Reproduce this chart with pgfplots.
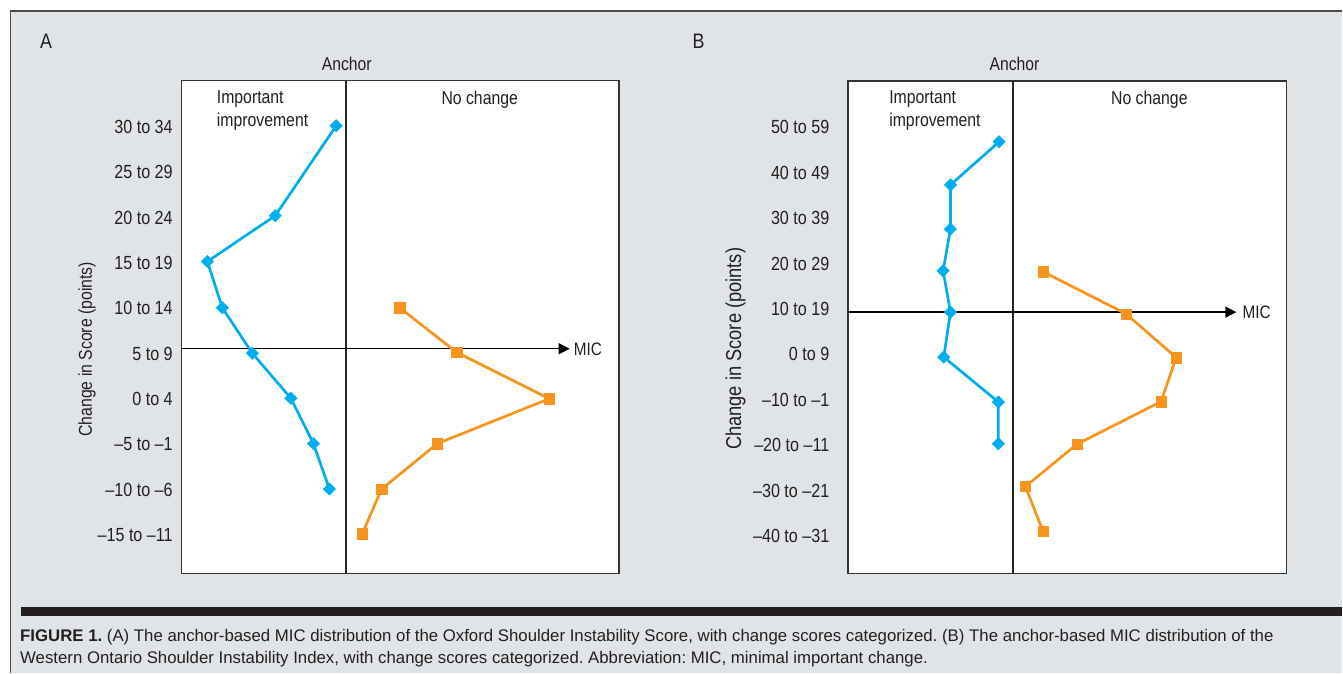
\documentclass[border=0pt]{standalone}
\usepackage{fontspec}
\setmainfont{Liberation Sans}[FakeStretch=0.85]
\newfontfamily\capfont{Liberation Sans}
\usepackage{pgfplots}
\pgfplotsset{compat=1.18}
\usetikzlibrary{arrows.meta}
\definecolor{bg}{RGB}{225,228,231}
\definecolor{cblue}{RGB}{0,174,239}
\definecolor{corange}{RGB}{247,148,29}
\definecolor{txt}{RGB}{35,31,32}
\frenchspacing
\pgfplotsset{
  panel/.style={
    scale only axis, anchor=south west, clip=false,
    axis background/.style={fill=white},
    axis line style={draw=black!80, line width=1.3pt},
    xtick=\empty, ytick={0,...,9}, major tick length=0pt,
    ytick style={draw=none},
    yticklabel style={font=\fontsize{19}{22}\selectfont, text=txt, anchor=east, inner sep=0pt},
  },
  bluel/.style={color=cblue, line width=2.7pt, mark=square*, mark size=4.4pt,
    mark options={rotate=45, fill=cblue, draw=cblue, line width=0.4pt, solid}},
  orangel/.style={color=corange, line width=2.7pt, mark=square*, mark size=5.2pt,
    mark options={fill=corange, draw=corange, line width=0.4pt, solid}},
}
\begin{document}
\begin{tikzpicture}[x=1pt,y=1pt]
\fill[white] (0,0) rectangle (1343,673);
\fill[bg] (10.7,0) rectangle (1343,662);
\draw[line width=1.5pt, color=black!70] (10.7,0) -- (10.7,662) -- (1343,662);
\fill[txt] (21,57) rectangle (1343,66);
\node[anchor=base west, inner sep=0pt, font=\capfont\fontsize{16.8}{20}\selectfont, text=txt] at (20,31) {\textbf{FIGURE 1.} (A) The anchor-based MIC distribution of the Oxford Shoulder Instability Score, with change scores categorized. (B) The anchor-based MIC distribution of the};
\node[anchor=base west, inner sep=0pt, font=\capfont\fontsize{16.8}{20}\selectfont, text=txt] at (20,9) {Western Ontario Shoulder Instability Index, with change scores categorized. Abbreviation: MIC, minimal important change.};

% Panel A
\begin{axis}[panel, at={(181.4pt,99pt)}, width=437.9pt, height=493.3pt,
  xmin=-165, xmax=272.9, ymin=-0.843, ymax=10.013,
  yticklabel style={xshift=-8.4pt},
  yticklabels={–15 to –11,–10 to –6,–5 to –1,0 to 4,5 to 9,10 to 14,15 to 19,20 to 24,25 to 29,30 to 34}]
\draw[line width=1.8pt, black!85] (axis cs:0,-0.843) -- (axis cs:0,10.013);
\draw[line width=1.4pt, -{Triangle[length=11pt,width=11pt]}] (axis cs:-165,4.11) -- (axis cs:223.6,4.11);
\addplot[bluel] coordinates {(-10,9.02) (-71,7.04) (-138.9,6.03) (-123.9,5.01) (-93.9,4.01) (-55.4,3.02) (-32.8,2.02) (-16.8,1.02)};
\addplot[orangel] coordinates {(53.6,5.01) (110.6,4.03) (203.2,3.01) (91.1,2.02) (35.4,1.02) (16.1,0.04)};
\end{axis}

% Panel B
\begin{axis}[panel, at={(848.6pt,99pt)}, width=438.4pt, height=493pt,
  xmin=-165, xmax=273.4, ymin=-0.83, ymax=10.02,
  yticklabel style={xshift=-18.6pt},
  yticklabels={–40 to –31,–30 to –21,–20 to –11,–10 to –1,0 to 9,10 to 19,20 to 29,30 to 39,40 to 49,50 to 59}]
\draw[line width=1.8pt, black!85] (axis cs:0,-0.83) -- (axis cs:0,10.02);
\draw[line width=1.4pt, -{Triangle[length=11pt,width=11pt]}] (axis cs:-165,4.93) -- (axis cs:223.4,4.93);
\addplot[bluel] coordinates {(-14,8.68) (-62.6,7.73) (-62.6,6.76) (-70,5.84) (-62.6,4.93) (-69.3,3.94) (-14.7,2.95) (-14.7,2.03)};
\addplot[orangel] coordinates {(30,5.82) (113.2,4.89) (163.2,3.93) (148.2,2.96) (63.9,2.02) (12.4,1.09) (30,0.10)};
\end{axis}

% texts
\begin{scope}[every node/.style={text=txt, inner sep=0pt}]
\node[font=\fontsize{21}{24}\selectfont] at (46,632) {A};
\node[font=\fontsize{21}{24}\selectfont] at (699,632) {B};
\node[font=\fontsize{18.5}{22}\selectfont] at (347,609) {Anchor};
\node[font=\fontsize{18.5}{22}\selectfont] at (1015,609) {Anchor};
\node[font=\fontsize{18.6}{22}\selectfont, rotate=90] at (87,323.5) {Change in Score (points)};
\node[font=\fontsize{21.5}{24}\selectfont, rotate=90] at (736,324) {Change in Score (points)};
\node[font=\fontsize{18.6}{22}\selectfont, anchor=base west] at (216.8,569) {Important};
\node[font=\fontsize{18.6}{22}\selectfont, anchor=base west] at (216.8,546) {improvement};
\node[font=\fontsize{18.6}{22}\selectfont, anchor=base] at (480,568) {No change};
\node[font=\fontsize{18.6}{22}\selectfont, anchor=base west] at (889.6,569) {Important};
\node[font=\fontsize{18.6}{22}\selectfont, anchor=base west] at (889.6,546) {improvement};
\node[font=\fontsize{18.6}{22}\selectfont, anchor=base] at (1150,568) {No change};
\node[font=\fontsize{18}{22}\selectfont, anchor=west] at (574,323) {MIC};
\node[font=\fontsize{18}{22}\selectfont, anchor=west] at (1243,361) {MIC};
\end{scope}
\end{tikzpicture}
\end{document}
